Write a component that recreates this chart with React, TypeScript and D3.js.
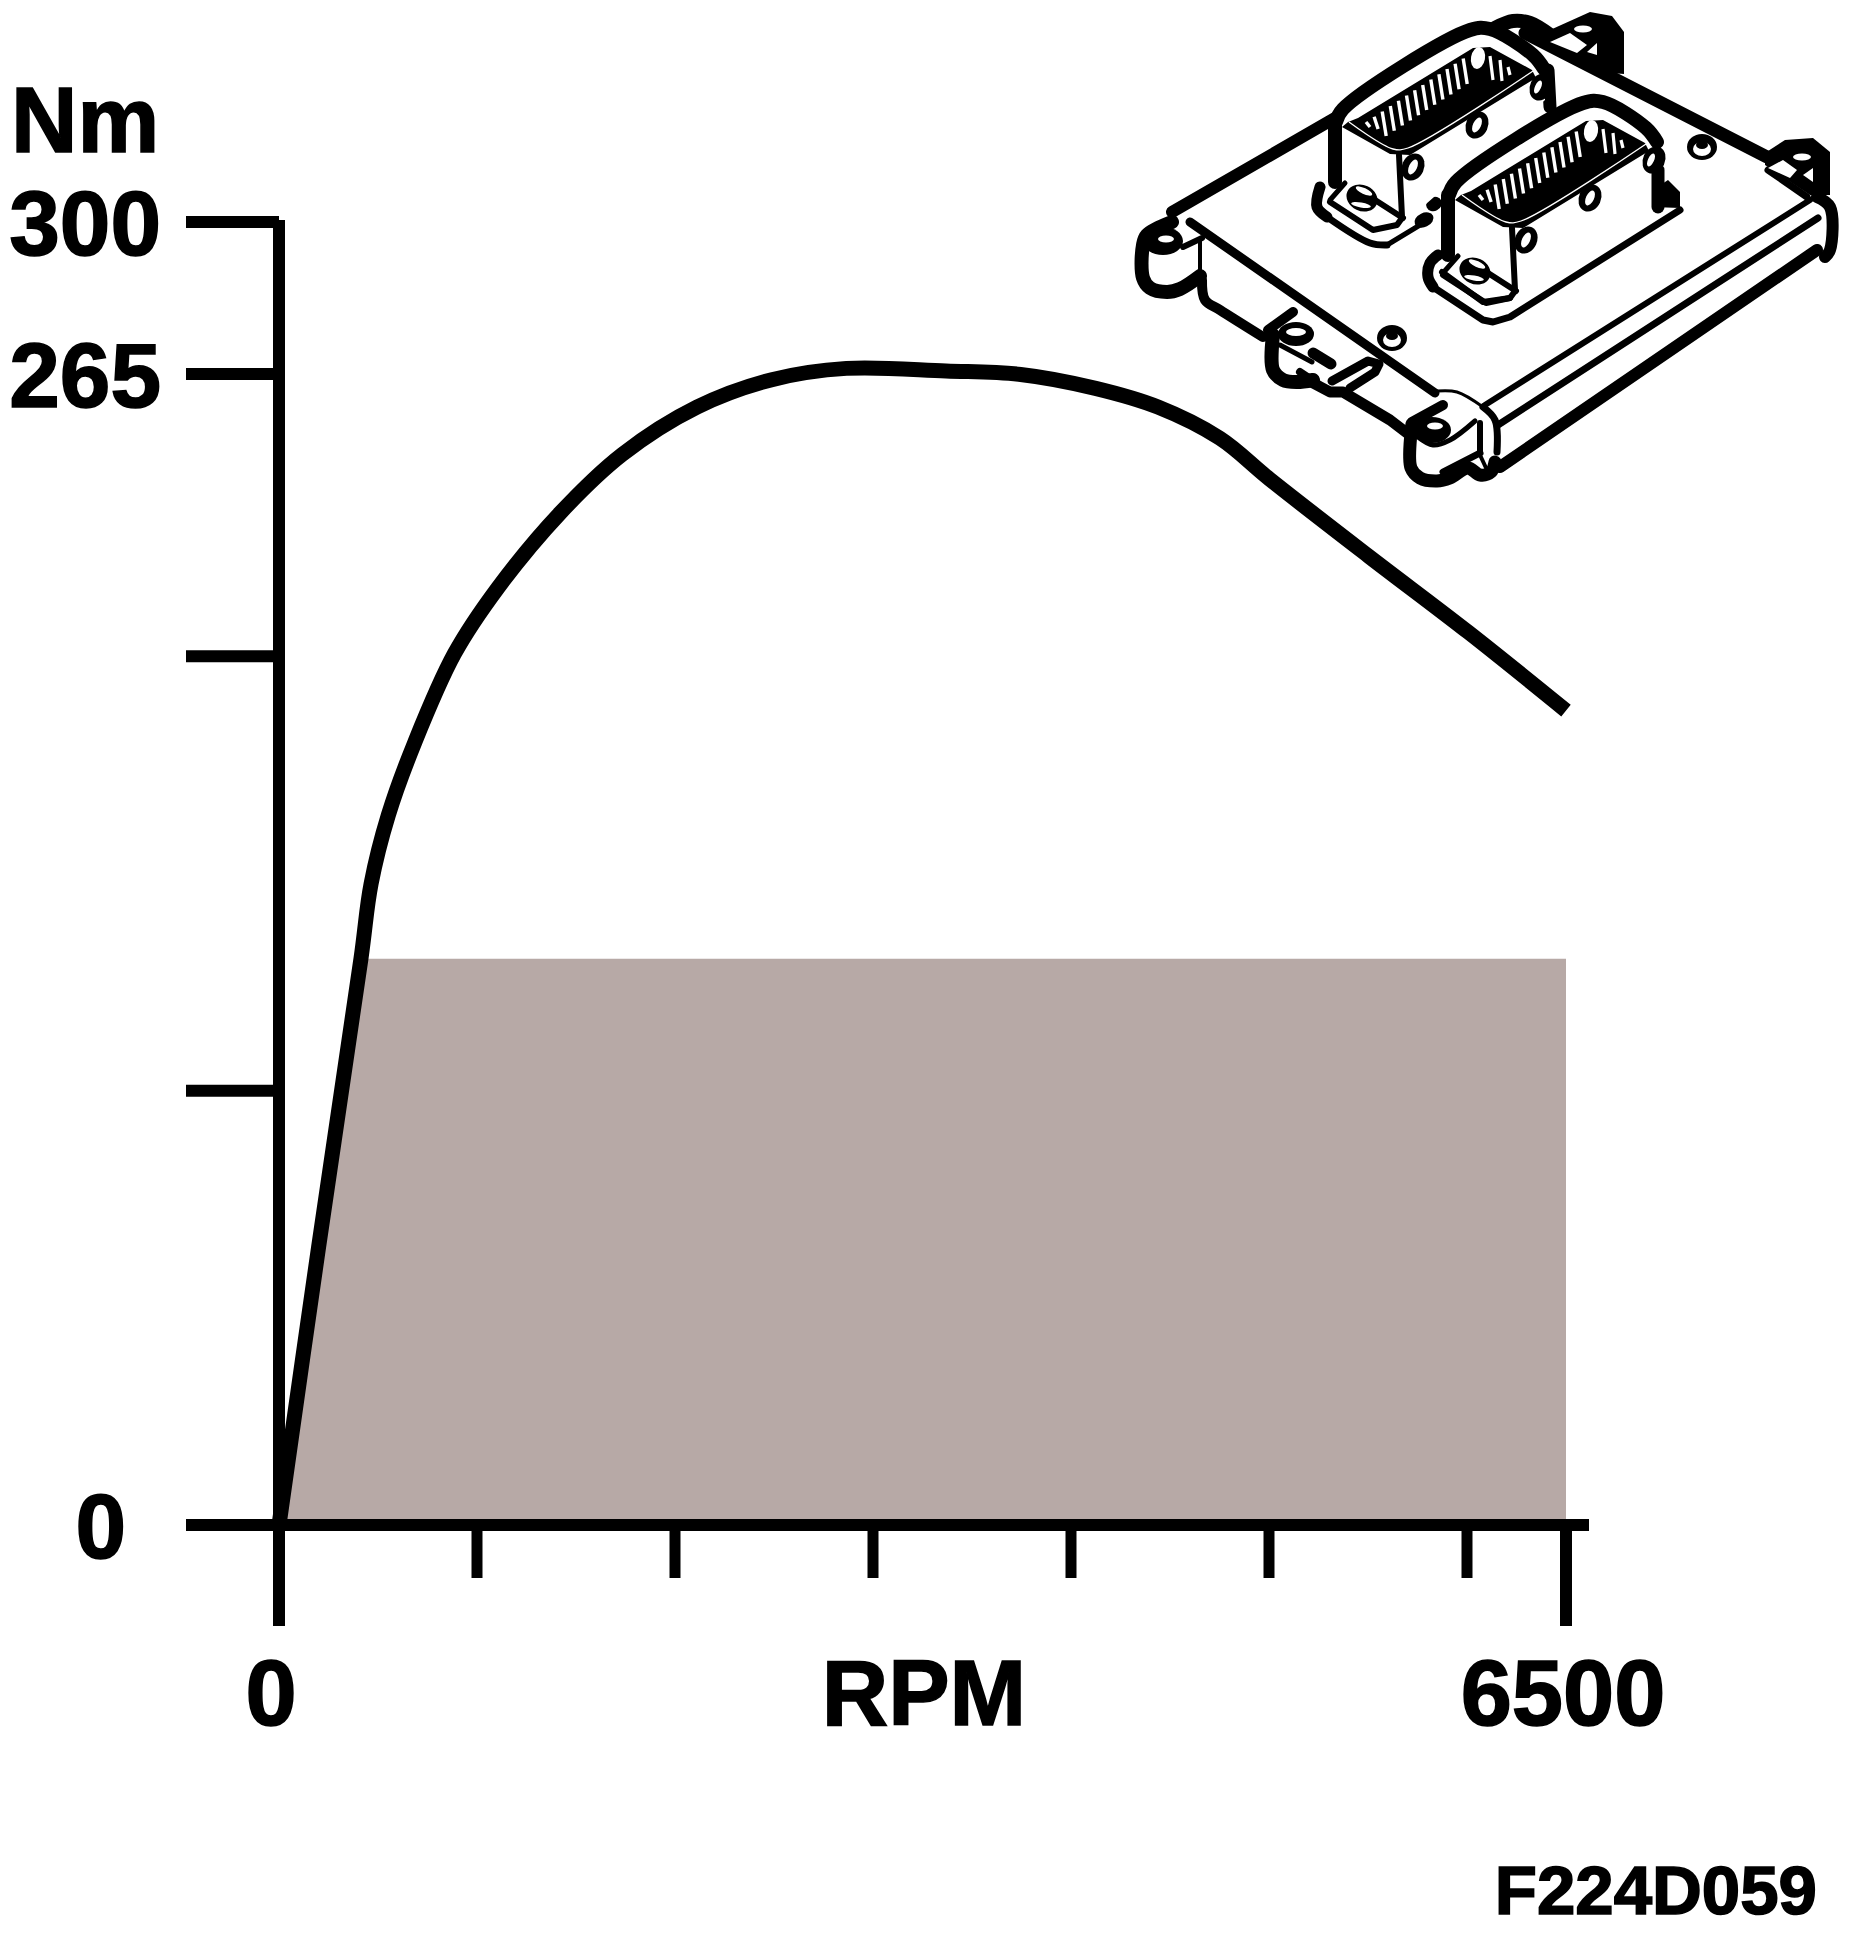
import React from "react";
import * as d3 from "d3";

const rpmCurve = [0, 200, 414, 465, 552, 684, 886, 1106, 1420, 1734, 2112, 2489, 2866, 3369, 3746, 4124, 4439, 4752, 5003, 5505, 6008, 6500];
const nmCurve = [0, 64, 130.4, 147.6, 163.4, 180, 200.6, 215.8, 233, 246.5, 257.4, 263.7, 266.3, 265.7, 264.9, 261.7, 257.4, 250.2, 240.8, 223, 205.5, 187.5];
const rpmFill = [20, 414, 6500];
const nmFill = [0, 130.4, 130.4];
const yTicks = [0, 100, 200, 265, 300];
const yLabels = [0, 265, 300];
const xTicks = [1000, 2000, 3000, 4000, 5000, 6000];
const xEnds = [0, 6500];

const x = d3.scaleLinear().domain([0, 6500]).range([279, 1566]);
const y = d3.scaleLinear().domain([0, 300]).range([1525, 222]);
const FONT = "'Liberation Sans', Arial, sans-serif";

type P = [number, number];
const poly = d3.line<P>();
const round = d3.line<P>().curve(d3.curveCatmullRom.alpha(0.5));
const L = (pts: P[], w: number, smooth = false) => (
  <path d={(smooth ? round : poly)(pts) || ""} fill="none" stroke="#000" strokeWidth={w} strokeLinejoin="round" strokeLinecap="round" />
);
const F = (pts: P[], fill = "#000") => <path d={poly(pts) + "Z"} fill={fill} />;
const E = (cx: number, cy: number, rx: number, ry: number, fill = "#000", rot = 0) => (
  <ellipse cx={cx} cy={cy} rx={rx} ry={ry} fill={fill} transform={rot ? `rotate(${rot} ${cx} ${cy})` : undefined} />
);

function Connector({ dx, dy }: { dx: number; dy: number }) {
  const stripes = d3.range(13).map((i) => {
    const top: P = [1366 + 8.1 * i, 122 - 5.3 * i];
    const bottom: P = [1370 + 8.1 * i, i < 2 ? 127 + 2 * i : 136 - 5.2 * (i - 2)];
    return [top, bottom] as [P, P];
  });
  const rightStripes: [P, P][] = [
    [[1490, 56], [1493, 80]],
    [[1500, 60], [1502, 81]],
    [[1508, 67], [1510, 75]],
  ];
  return (
    <g transform={`translate(${dx},${dy})`}>
      {F([[1340, 125], [1400, 160], [1545, 70], [1545, 100], [1402, 225], [1340, 190]], "#fff")}
      {L([[1336, 122], [1343, 109], [1470, 30], [1490, 29], [1533, 55], [1544, 69]], 14, true)}
      {F([[1358, 118], [1473, 48], [1490, 47], [1532, 70], [1536, 78], [1410, 155], [1390, 154], [1342, 127], [1348, 122]])}
      {stripes.map((s, i) => (
        <path key={"s" + i} d={poly(s) || ""} stroke="#fff" strokeWidth={3.4} fill="none" />
      ))}
      {E(1478, 58, 7, 11, "#fff", 10)}
      {rightStripes.map((s, i) => (
        <path key={"r" + i} d={poly(s) || ""} stroke="#fff" strokeWidth={3.2} fill="none" />
      ))}
      <path d={round([[1349, 122], [1393, 149], [1408, 148], [1533, 71]]) || ""} stroke="#fff" strokeWidth={1.3} fill="none" />
      {L([[1335, 122], [1335, 182]], 14)}
      {L([[1399, 155], [1402, 217]], 6)}
      {L([[1330, 202], [1373, 230], [1397, 225], [1402, 218]], 6)}
      {L([[1345, 183], [1330, 200]], 5)}
      {L([[1375, 200], [1403, 218]], 6)}
      {E(1362, 198, 16, 13, "#000", 25)}
      {E(1364, 191, 9, 3, "#fff", 25)}
      {E(1361, 205, 10, 2.5, "#fff", 10)}
      {E(1413, 167, 11, 14, "#000", 25)}
      {E(1413, 167, 4, 8, "#fff", 25)}
      {E(1477, 125, 11, 14, "#000", 25)}
      {E(1477, 125, 4, 8, "#fff", 25)}
      {E(1541, 87, 11, 14, "#000", 25)}
      {E(1538, 87, 3, 7, "#fff", 25)}
    </g>
  );
}

function Ecu() {
  return (
    <g>
      {/* board edges */}
      {L([[1172, 212], [1335, 118]], 12)}
      {L([[1190, 222], [1435, 393]], 9)}
      {L([[1495, 28], [1513, 21], [1530, 23], [1550, 35]], 14, true)}
      {L([[1525, 33], [1767, 157]], 13)}
      {F([[1550, 30], [1590, 12], [1612, 16], [1624, 32], [1624, 74], [1600, 72], [1545, 42]])}
      {F([[1550, 42], [1570, 33], [1587, 45], [1577, 53]], "#fff")}
      {F([[1587, 52], [1597, 43], [1597, 55]], "#fff")}
      {E(1583, 29, 9, 3.5, "#fff")}
      {L([[1768, 170], [1807, 197]], 7)}
      {F([[1765, 153], [1785, 140], [1813, 138], [1830, 152], [1830, 195], [1810, 195], [1765, 165]])}
      {F([[1768, 168], [1783, 160], [1797, 170], [1790, 178]], "#fff")}
      {F([[1803, 175], [1813, 168], [1813, 182]], "#fff")}
      {E(1802, 157, 9, 3.5, "#fff")}

      {/* right side */}
      {L([[1485, 405], [1810, 200]], 6)}
      {L([[1498, 425], [1818, 218]], 7)}
      {L([[1500, 467], [1817, 250]], 12)}
      {L([[1817, 197], [1830, 207], [1830, 250], [1825, 257]], 12, true)}

      {/* left lug */}
      {L([[1172, 222], [1147, 235], [1143, 245], [1143, 278], [1150, 288], [1167, 292], [1180, 289], [1200, 276]], 14, true)}
      {E(1163, 241, 20, 14)}
      {E(1166, 239, 8, 3.5, "#fff")}
      {L([[1183, 247], [1202, 238]], 6)}
      {L([[1200, 240], [1200, 270]], 4)}

      {/* skirt */}
      {L([[1202, 280], [1205, 300], [1220, 310], [1263, 337]], 10, true)}
      {L([[1268, 330], [1293, 312]], 10)}
      {L([[1273, 335], [1273, 370], [1283, 380], [1297, 382], [1313, 380]], 14, true)}
      {E(1296, 334, 18, 12)}
      {E(1296, 332, 10, 4, "#fff")}
      {L([[1280, 345], [1312, 362]], 5)}
      {L([[1313, 353], [1331, 364]], 11)}
      {E(1321, 368, 7, 2, "#fff", 30)}
      {L([[1300, 372], [1318, 384]], 8)}
      {L([[1313, 383], [1330, 392], [1343, 392], [1390, 420], [1407, 433]], 11)}
      {L([[1332, 381], [1368, 361], [1379, 364], [1375, 372], [1350, 388]], 9)}

      {/* front right lug */}
      {L([[1437, 391], [1457, 392], [1483, 407]], 3, true)}
      {L([[1483, 407], [1495, 420], [1497, 452]], 7, true)}
      {L([[1412, 422], [1443, 405]], 10)}
      {L([[1412, 424], [1411, 432], [1411, 468], [1420, 478], [1437, 481], [1450, 478], [1468, 468], [1480, 475], [1491, 472], [1495, 462]], 13, true)}
      {E(1432, 430, 19, 13)}
      {E(1435, 426, 8, 3.5, "#fff")}
      {L([[1418, 437], [1433, 445], [1450, 440], [1475, 421]], 5, true)}
      {L([[1480, 423], [1480, 452]], 6)}
      {L([[1443, 472], [1480, 453]], 7)}
      {L([[1480, 455], [1487, 470]], 4)}

      {/* board posts */}
      {E(1392, 338, 15, 13)}
      {E(1392, 340, 9, 7, "#fff")}
      {E(1392, 336, 6, 4)}
      {E(1702, 147, 15, 13)}
      {E(1702, 149, 9, 7, "#fff")}
      {E(1702, 145, 6, 4)}

      {/* nubs between connectors */}
      {E(1424, 220, 10, 7, "#000", -25)}
      {E(1434, 204, 8, 7, "#000", -25)}
      {L([[1387, 245], [1420, 225]], 5)}
      {L([[1320, 187], [1317, 207], [1327, 217]], 11, true)}
      {L([[1327, 217], [1370, 243], [1387, 245]], 7, true)}
      {L([[1548, 70], [1550, 107]], 13)}

      <Connector dx={0} dy={0} />

      {/* second connector base */}
      {L([[1680, 210], [1510, 317], [1493, 322], [1483, 320], [1433, 287]], 7)}
      {L([[1433, 287], [1428, 277], [1430, 263], [1438, 255]], 11, true)}
      {L([[1442, 272], [1483, 302], [1510, 298]], 6)}
      <Connector dx={113} dy={73} />
      {L([[1658, 170], [1658, 207]], 13)}
      {F([[1653, 190], [1668, 180], [1680, 192], [1680, 208], [1653, 207]])}
    </g>
  );
}

export default function App() {
  const curve = d3.line<number>().x((d) => x(d)).y((_, i) => y(nmCurve[i])).curve(d3.curveCatmullRom.alpha(0.5))(rpmCurve) || "";
  const fill = d3.area<number>().x((d) => x(d)).y0(y(0)).y1((_, i) => y(nmFill[i]))(rpmFill) || "";
  const textStyle = { fontFamily: FONT, fontWeight: 700, fill: "#000", stroke: "#000", strokeWidth: 1.6 } as const;
  return (
    <svg width={1856} height={1952} style={{ position: "absolute", left: 0, top: 0, background: "#fff" }}>
      <path d={fill} fill="#b7a9a6" />
      {/* axes */}
      <line x1={x(0)} x2={x(0)} y1={y(300) - 2} y2={1626} stroke="#000" strokeWidth={12} />
      <line x1={186} x2={1589} y1={y(0)} y2={y(0)} stroke="#000" strokeWidth={12} />
      {yTicks.map((t) => (
        <line key={t} x1={186} x2={x(0)} y1={y(t)} y2={y(t)} stroke="#000" strokeWidth={12} />
      ))}
      {xTicks.map((t) => (
        <line key={t} x1={x(t)} x2={x(t)} y1={y(0)} y2={1578} stroke="#000" strokeWidth={11} />
      ))}
      {xEnds.map((t) => (
        <line key={t} x1={x(t)} x2={x(t)} y1={y(0)} y2={1626} stroke="#000" strokeWidth={12} />
      ))}
      <path d={curve} fill="none" stroke="#000" strokeWidth={15} strokeLinejoin="round" />

      {/* labels */}
      <text x={11} y={152} fontSize={92} style={textStyle}>Nm</text>
      {yLabels.map((t) => (
        <text key={t} x={161} y={y(t) + 33} fontSize={91} textAnchor="end" style={textStyle} dx={t === 0 ? -35 : 0}>{t}</text>
      ))}
      <text x={x(0) - 8} y={1725} fontSize={92} textAnchor="middle" style={textStyle}>0</text>
      <text x={924} y={1725} fontSize={92} textAnchor="middle" style={textStyle}>RPM</text>
      <text x={1563} y={1725} fontSize={92} textAnchor="middle" style={textStyle}>6500</text>
      <text x={1817} y={1914} fontSize={69} textAnchor="end" style={textStyle}>F224D059</text>
      <Ecu />
    </svg>
  );
}
